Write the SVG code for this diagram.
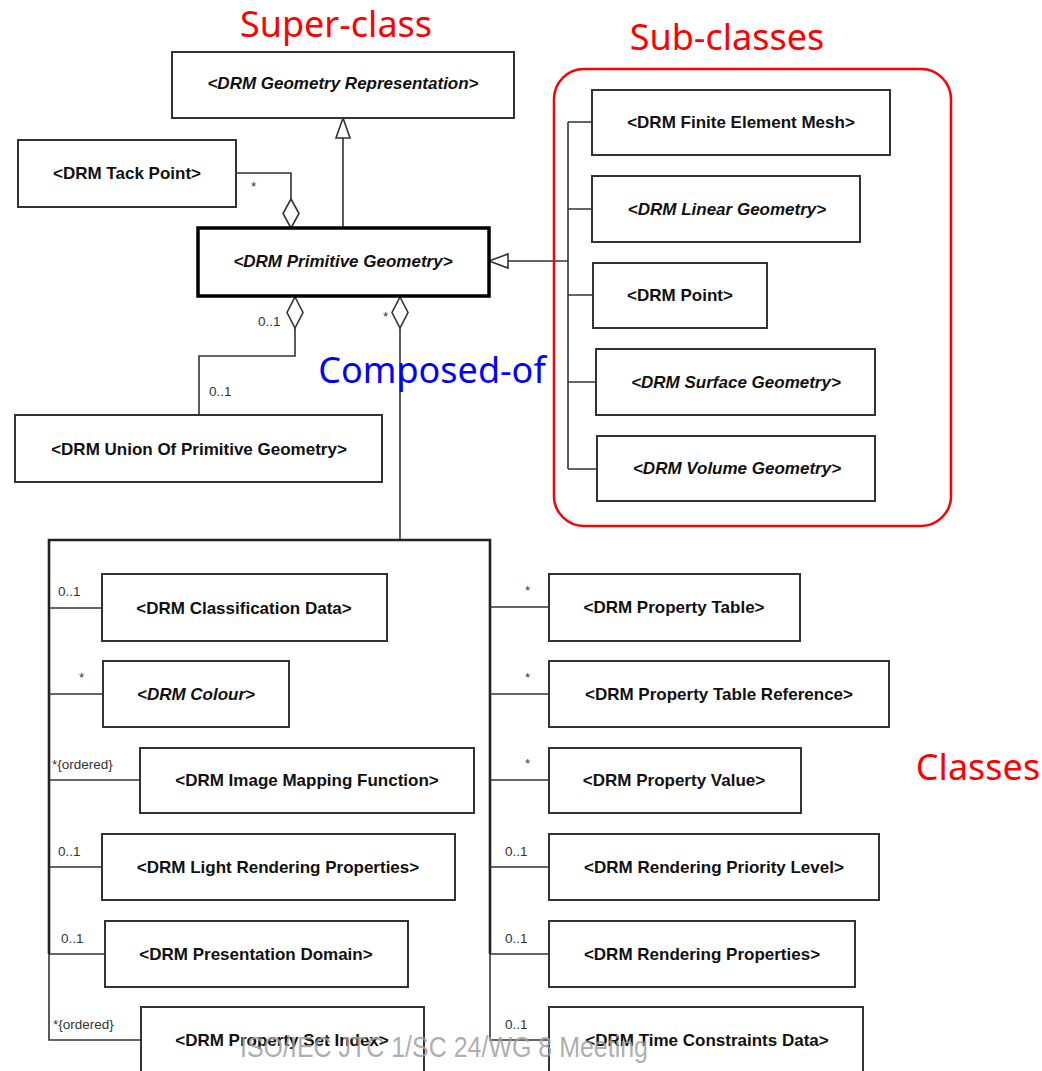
<svg xmlns="http://www.w3.org/2000/svg" width="1042" height="1071" viewBox="0 0 1042 1071">
<style>
.box{fill:#fff;stroke:#333;stroke-width:2}
.t{font-family:"Liberation Sans",Arial,sans-serif;font-size:17px;font-weight:bold;fill:#111;text-anchor:middle}
.i{font-style:italic}
.c{fill:none;stroke:#333;stroke-width:1.6}
.bus{fill:none;stroke:#222;stroke-width:2.6}
.m{font-family:"Liberation Sans",Arial,sans-serif;font-size:13.5px;fill:#333}
.ann{font-family:"Noto Sans","Open Sans",sans-serif;font-size:36px}
.head{fill:#fff;stroke:#333;stroke-width:1.6}
</style>
<rect width="1042" height="1071" fill="#fff"/>
<g id="connectors">
<path class="c" d="M343,138 V228"/>
<polygon class="head" points="343,118 336,138 350,138"/>
<path class="c" d="M236,173 H291 V199"/>
<polygon class="head" points="291,199 299,213.5 291,228 283,213.5"/>
<path class="c" d="M295,328 V356 H199 V415"/>
<polygon class="head" points="295,297 303,312.5 295,328 287,312.5"/>
<path class="c" d="M400,328 V540"/>
<polygon class="head" points="400,297 408,312.5 400,328 392,312.5"/>
<path class="c" d="M508,261 H568 M568,122 V469 M568,122 H592 M568,209 H592 M568,295 H593 M568,382 H596 M568,469 H597"/>
<polygon class="head" points="489,261 508,254 508,268"/>
<path class="bus" d="M49,954 V540 H490 V954"/>
<path class="c" d="M49,954 V1040 H141 M490,954 V1040 H549"/>
<path class="c" d="M49,608 H102 M49,694 H103 M49,780 H140 M49,867 H102 M49,954 H105"/>
<path class="c" d="M490,607 H549 M490,694 H549 M490,780 H549 M490,867 H549 M490,954 H549"/>
<text class="m" x="251" y="191">*</text>
<text class="m" x="258" y="326">0..1</text>
<text class="m" x="209" y="396">0..1</text>
<text class="m" x="383" y="321">*</text>
<text class="m" x="58" y="596">0..1</text>
<text class="m" x="79" y="682">*</text>
<text class="m" x="52" y="769">*{ordered}</text>
<text class="m" x="58" y="856">0..1</text>
<text class="m" x="61" y="943">0..1</text>
<text class="m" x="53" y="1029">*{ordered}</text>
<text class="m" x="525" y="595">*</text>
<text class="m" x="525" y="682">*</text>
<text class="m" x="525" y="768">*</text>
<text class="m" x="505" y="856">0..1</text>
<text class="m" x="505" y="943">0..1</text>
<text class="m" x="505" y="1029">0..1</text>
</g>
<g id="geometry-representation"><rect class="box" x="172" y="52" width="342" height="66"/><text class="t i" x="343" y="89">&lt;DRM Geometry Representation&gt;</text></g>
<g id="tack-point"><rect class="box" x="18" y="140" width="218" height="67"/><text class="t" x="127" y="179">&lt;DRM Tack Point&gt;</text></g>
<g id="primitive-geometry"><rect x="198" y="228" width="291" height="68" fill="#fff" stroke="#000" stroke-width="3.5"/><text class="t i" x="343" y="267">&lt;DRM Primitive Geometry&gt;</text></g>
<g id="union"><rect class="box" x="15" y="415" width="367" height="67"/><text class="t" x="199" y="455">&lt;DRM Union Of Primitive Geometry&gt;</text></g>
<g id="subclasses-frame"><rect x="554" y="69" width="397" height="457" rx="30" fill="none" stroke="#f00" stroke-width="2.5"/></g>
<g id="finite-element-mesh"><rect class="box" x="592" y="90" width="298" height="65"/><text class="t" x="741" y="128">&lt;DRM Finite Element Mesh&gt;</text></g>
<g id="linear-geometry"><rect class="box" x="592" y="176" width="268" height="66"/><text class="t i" x="727" y="215">&lt;DRM Linear Geometry&gt;</text></g>
<g id="point"><rect class="box" x="593" y="263" width="174" height="65"/><text class="t" x="680" y="301">&lt;DRM Point&gt;</text></g>
<g id="surface-geometry"><rect class="box" x="596" y="349" width="279" height="66"/><text class="t i" x="736" y="388">&lt;DRM Surface Geometry&gt;</text></g>
<g id="volume-geometry"><rect class="box" x="597" y="436" width="278" height="65"/><text class="t i" x="737" y="474">&lt;DRM Volume Geometry&gt;</text></g>
<g id="classification-data"><rect class="box" x="102" y="574" width="285" height="67"/><text class="t" x="244" y="614">&lt;DRM Classification Data&gt;</text></g>
<g id="colour"><rect class="box" x="103" y="661" width="186" height="66"/><text class="t i" x="196" y="700">&lt;DRM Colour&gt;</text></g>
<g id="image-mapping-function"><rect class="box" x="140" y="748" width="334" height="65"/><text class="t" x="307" y="786">&lt;DRM Image Mapping Function&gt;</text></g>
<g id="light-rendering-properties"><rect class="box" x="102" y="834" width="353" height="66"/><text class="t" x="278" y="873">&lt;DRM Light Rendering Properties&gt;</text></g>
<g id="presentation-domain"><rect class="box" x="105" y="921" width="303" height="66"/><text class="t" x="256" y="960">&lt;DRM Presentation Domain&gt;</text></g>
<g id="property-set-index"><rect class="box" x="141" y="1007" width="283" height="80"/><text class="t" x="282" y="1046">&lt;DRM Property Set Index&gt;</text></g>
<g id="property-table"><rect class="box" x="549" y="574" width="251" height="67"/><text class="t" x="674" y="613">&lt;DRM Property Table&gt;</text></g>
<g id="property-table-reference"><rect class="box" x="549" y="661" width="340" height="66"/><text class="t" x="719" y="700">&lt;DRM Property Table Reference&gt;</text></g>
<g id="property-value"><rect class="box" x="549" y="748" width="252" height="65"/><text class="t" x="674" y="786">&lt;DRM Property Value&gt;</text></g>
<g id="rendering-priority-level"><rect class="box" x="549" y="834" width="330" height="66"/><text class="t" x="714" y="873">&lt;DRM Rendering Priority Level&gt;</text></g>
<g id="rendering-properties"><rect class="box" x="549" y="921" width="306" height="66"/><text class="t" x="702" y="960">&lt;DRM Rendering Properties&gt;</text></g>
<g id="time-constraints-data"><rect class="box" x="549" y="1007" width="314" height="80"/><text class="t" x="707" y="1046">&lt;DRM Time Constraints Data&gt;</text></g>
<g id="annotations">
<text class="ann" x="336" y="37" fill="#f00" text-anchor="middle">Super-class</text>
<text class="ann" x="727" y="50" fill="#f00" text-anchor="middle">Sub-classes</text>
<text class="ann" x="432" y="383" fill="#00f" text-anchor="middle">Composed-of</text>
<text class="ann" x="978" y="780" fill="#f00" text-anchor="middle">Classes</text>
<text x="240" y="1057" font-family="'Liberation Sans',Arial,sans-serif" font-size="30" fill="#a0a0a0" fill-opacity="0.85" textLength="408" lengthAdjust="spacingAndGlyphs">ISO/IEC JTC 1/SC 24/WG 8 Meeting</text>
</g>
</svg>
